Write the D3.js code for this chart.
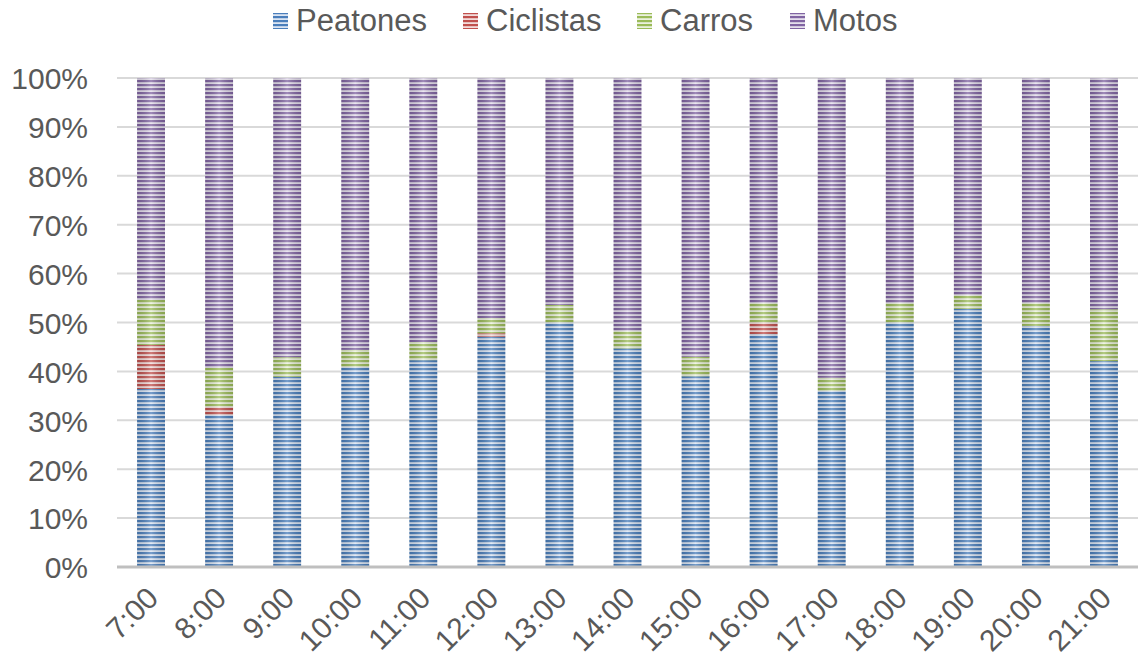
<!DOCTYPE html>
<html>
<head>
<meta charset="utf-8">
<script src="https://cdn.jsdelivr.net/npm/d3@7"></script>
<style>
  body { margin: 0; background: #fff; }
  text { font-family: "Liberation Sans", Arial, sans-serif; fill: #595959; }
</style>
</head>
<body>
<svg id="chart" width="1141" height="664"></svg>
<script>
// hours on the x axis
var horas = ['7:00', '8:00', '9:00', '10:00', '11:00', '12:00', '13:00', '14:00',
             '15:00', '16:00', '17:00', '18:00', '19:00', '20:00', '21:00'];

// share of each mode per hour (%)
var peatones  = [36.4, 31.1, 38.9, 40.9, 42.3, 47.1, 50.0, 44.7, 39.0, 47.6, 36.0, 50.0, 52.8, 49.3, 42.1];
var ciclistas = [9.0, 1.7, 0, 0, 0, 0.7, 0, 0, 0, 2.4, 0, 0, 0, 0, 0];
var carros    = [9.2, 7.9, 4.0, 3.5, 3.7, 3.1, 3.6, 3.6, 4.0, 4.0, 2.7, 4.0, 2.8, 4.7, 10.6];
var motos     = [45.4, 59.3, 57.1, 55.6, 54.0, 49.1, 46.4, 51.7, 57.0, 46.0, 61.3, 46.0, 44.4, 46.0, 47.3];

var seriesNames = ['Peatones', 'Ciclistas', 'Carros', 'Motos'];
var yTicks = [0, 10, 20, 30, 40, 50, 60, 70, 80, 90, 100];

var colors = {
  Peatones:  ['#4a7ebb', '#dbe5f3'],
  Ciclistas: ['#c0504d', '#f2dcdb'],
  Carros:    ['#9bbb59', '#ebf1de'],
  Motos:     ['#8064a2', '#e5dfec']
};

var rows = horas.map(function(h, i) {
  return { hora: h, Peatones: peatones[i], Ciclistas: ciclistas[i], Carros: carros[i], Motos: motos[i] };
});

var svg = d3.select('#chart');
var margin = { left: 117, right: 3, top: 78, bottom: 97 };
var W = 1141, H = 664;

var x = d3.scaleBand().domain(horas).range([margin.left, W - margin.right]).paddingInner(0.59).paddingOuter(0.295);
var y = d3.scaleLinear().domain([0, 1]).range([H - margin.bottom, margin.top]);

var stack = d3.stack().keys(seriesNames).offset(d3.stackOffsetExpand);
var stacked = stack(rows);

// striped patterns + shading gradient
var defs = svg.append('defs');
seriesNames.forEach(function(name) {
  var p = defs.append('pattern')
    .attr('id', 'pat-' + name)
    .attr('patternUnits', 'userSpaceOnUse')
    .attr('width', 8).attr('height', 4);
  p.append('rect').attr('width', 8).attr('height', 4).attr('fill', colors[name][1]);
  p.append('rect').attr('y', 0).attr('width', 8).attr('height', 2.2).attr('fill', colors[name][0]);
});
var g = defs.append('linearGradient').attr('id', 'shade').attr('x1', 0).attr('x2', 1).attr('y1', 0).attr('y2', 0);
g.append('stop').attr('offset', '0%').attr('stop-color', '#000').attr('stop-opacity', 0.12);
g.append('stop').attr('offset', '50%').attr('stop-color', '#fff').attr('stop-opacity', 0.25);
g.append('stop').attr('offset', '100%').attr('stop-color', '#000').attr('stop-opacity', 0.12);

// gridlines
svg.append('g').selectAll('line').data(yTicks.slice(1)).join('line')
  .attr('x1', margin.left).attr('x2', W - margin.right)
  .attr('y1', function(d) { return y(d / 100); })
  .attr('y2', function(d) { return y(d / 100); })
  .attr('stroke', '#d9d9d9').attr('stroke-width', 2);

// y axis labels
var yAxis = d3.axisLeft(y).tickValues(yTicks.map(function(d) { return d / 100; }))
  .tickFormat(d3.format('.0%')).tickSize(0).tickPadding(29);
var ya = svg.append('g').attr('transform', 'translate(' + margin.left + ',0)').call(yAxis);
ya.select('.domain').remove();
ya.selectAll('text').attr('font-size', 30).attr('fill', '#595959').attr('dy', '0.36em')
  .style('font-family', '"Liberation Sans", Arial, sans-serif');

// bars
var layer = svg.append('g').selectAll('g').data(stacked).join('g')
  .attr('fill', function(d) { return 'url(#pat-' + d.key + ')'; });
layer.selectAll('rect').data(function(d) { return d; }).join('rect')
  .attr('x', function(d) { return x(d.data.hora); })
  .attr('width', x.bandwidth())
  .attr('y', function(d) { return y(d[1]); })
  .attr('height', function(d) { return y(d[0]) - y(d[1]); });

svg.append('g').selectAll('rect').data(horas).join('rect')
  .attr('x', function(d) { return x(d); })
  .attr('width', x.bandwidth())
  .attr('y', y(1)).attr('height', y(0) - y(1))
  .attr('fill', 'url(#shade)');

// x axis
var xAxis = d3.axisBottom(x).tickSize(0).tickPadding(0);
var xa = svg.append('g').attr('transform', 'translate(0,' + y(0) + ')').call(xAxis);
xa.select('.domain').attr('stroke', '#bfbfbf').attr('stroke-width', 3)
  .attr('d', 'M' + margin.left + ',0H' + (W - margin.right));
xa.selectAll('text')
  .attr('font-size', 30).attr('fill', '#595959')
  .style('font-family', '"Liberation Sans", Arial, sans-serif')
  .attr('text-anchor', 'end')
  .attr('dy', 0).attr('y', 0)
  .attr('transform', 'translate(9,33) rotate(-45)');

// legend
var legendX = [273, 463, 637, 790];
var lg = svg.append('g').selectAll('g').data(seriesNames).join('g')
  .attr('transform', function(d, i) { return 'translate(' + legendX[i] + ',0)'; });
lg.append('rect').attr('x', 0).attr('y', 13).attr('width', 15).attr('height', 16)
  .attr('fill', function(d) { return 'url(#pat-' + d + ')'; });
lg.append('text').attr('x', 23).attr('y', 31).attr('font-size', 31).text(function(d) { return d; });
</script>
</body>
</html>
